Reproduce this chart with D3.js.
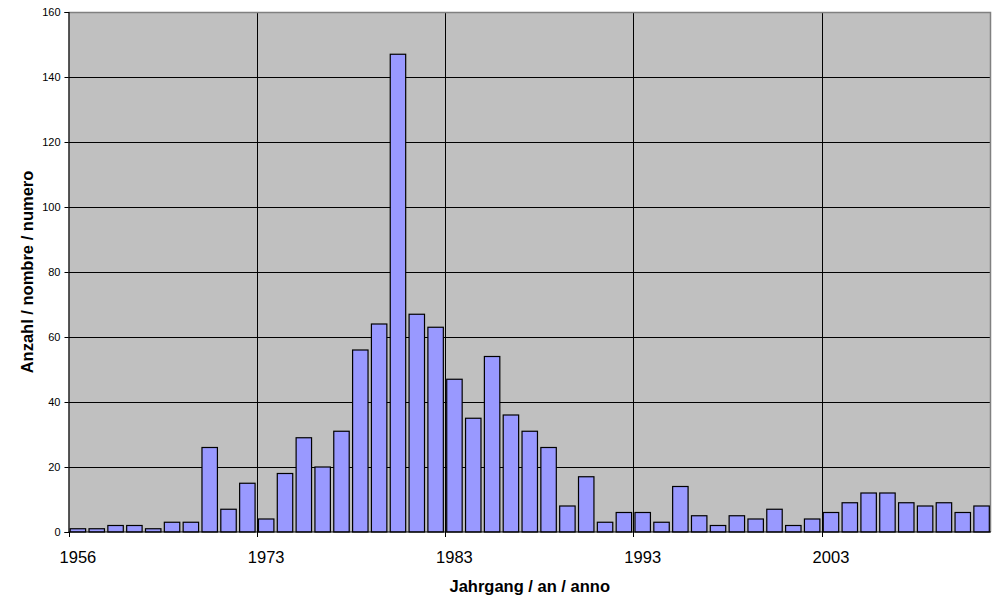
<!DOCTYPE html>
<html>
<head>
<meta charset="utf-8">
<script src="https://cdn.jsdelivr.net/npm/d3@7"></script>
<style>
  html, body { margin: 0; padding: 0; background: #ffffff; }
  svg { display: block; font-family: "Liberation Sans", Arial, sans-serif; }
</style>
</head>
<body>
<svg id="chart" width="1000" height="599"></svg>
<script>
// ---- data ----
const years = ["1956", "1964", "1965", "1966", "1967", "1968", "1969", "1970", "1971", "1972",
  "1973", "1974", "1975", "1976", "1977", "1978", "1979", "1980", "1981", "1982",
  "1983", "1984", "1985", "1986", "1987", "1988", "1989", "1990", "1991", "1992",
  "1993", "1994", "1995", "1996", "1997", "1998", "1999", "2000", "2001", "2002",
  "2003", "2004", "2005", "2006", "2007", "2008", "2009", "2010", "2011"];
const counts = [1, 1, 2, 2, 1, 3, 3, 26, 7, 15,
  4, 18, 29, 20, 31, 56, 64, 147, 67, 63,
  47, 35, 54, 36, 31, 26, 8, 17, 3, 6,
  6, 3, 14, 5, 2, 5, 4, 7, 2, 4,
  6, 9, 12, 12, 9, 8, 9, 6, 8];
const xTickLabels = ["1956", "1973", "1983", "1993", "2003"];
const yTicks = [0, 20, 40, 60, 80, 100, 120, 140, 160];
const xTitle = "Jahrgang / an / anno";
const yTitle = "Anzahl / nombre / numero";

// ---- layout ----
const pL = 68.5, pR = 991, pT = 12, pB = 532;
const pad = 0.18;

const svg = d3.select("#chart");

const x = d3.scaleBand().domain(years).range([pL, pR])
  .paddingInner(pad).paddingOuter(pad / 2);
const y = d3.scaleLinear().domain([0, 160]).range([pB, pT]);
const step = x.step();
const boundary = i => pL + i * step;

// plot background
svg.append("rect")
  .attr("x", pL).attr("y", pT)
  .attr("width", pR - pL).attr("height", pB - pT)
  .attr("fill", "#c0c0c0");

// horizontal gridlines
svg.append("g").selectAll("line")
  .data(yTicks.filter(v => v > 0 && v < 160))
  .join("line")
  .attr("x1", pL).attr("x2", pR)
  .attr("y1", d => Math.round(y(d)) + 0.5).attr("y2", d => Math.round(y(d)) + 0.5)
  .attr("stroke", "#000").attr("stroke-width", 1);

// vertical gridlines at category boundaries of labelled categories
const labelIdx = xTickLabels.map(l => years.indexOf(l));
svg.append("g").selectAll("line")
  .data(labelIdx.filter(i => i > 0))
  .join("line")
  .attr("x1", i => Math.round(boundary(i)) + 0.5).attr("x2", i => Math.round(boundary(i)) + 0.5)
  .attr("y1", pT).attr("y2", pB)
  .attr("stroke", "#000").attr("stroke-width", 1);

// top & right border
svg.append("path")
  .attr("d", `M${pL},${pT + 0.5}H${pR - 0.5}V${pB}`)
  .attr("fill", "none").attr("stroke", "#808080").attr("stroke-width", 1.5);

// bars
svg.append("g").selectAll("rect")
  .data(years.map((yr, i) => ({ yr, v: counts[i] })))
  .join("rect")
  .attr("x", d => x(d.yr))
  .attr("width", x.bandwidth())
  .attr("y", d => y(d.v))
  .attr("height", d => y(0) - y(d.v))
  .attr("fill", "#9999ff")
  .attr("stroke", "#000")
  .attr("stroke-width", 1.2);

// y axis
const yAxis = d3.axisLeft(y).tickValues(yTicks).tickSize(4).tickPadding(4);
const gy = svg.append("g").attr("transform", `translate(${pL},0)`).call(yAxis);
gy.select(".domain").attr("stroke", "#000").attr("stroke-width", 1.2);
gy.selectAll(".tick line").attr("stroke", "#000");
gy.selectAll(".tick text").attr("font-size", "11px").attr("fill", "#000")
  .attr("font-family", "Liberation Sans, Arial, sans-serif");

// x axis (labels centered in labelled categories)
const xAxis = d3.axisBottom(x).tickValues(xTickLabels).tickSize(0).tickPadding(0);
const gx = svg.append("g").attr("transform", `translate(0,${pB})`).call(xAxis);
gx.select(".domain").remove();
gx.selectAll(".tick text").attr("font-size", "16.5px").attr("fill", "#000")
  .attr("font-family", "Liberation Sans, Arial, sans-serif")
  .attr("dy", null).attr("y", 31);
// x axis line
svg.append("line")
  .attr("x1", pL).attr("x2", pR)
  .attr("y1", pB).attr("y2", pB)
  .attr("stroke", "#000").attr("stroke-width", 1.2);
// x tick marks at boundaries
svg.append("g").selectAll("line")
  .data(labelIdx)
  .join("line")
  .attr("x1", i => Math.round(boundary(i)) + 0.5).attr("x2", i => Math.round(boundary(i)) + 0.5)
  .attr("y1", pB).attr("y2", pB + 5)
  .attr("stroke", "#000").attr("stroke-width", 1);

// axis titles
svg.append("text")
  .attr("x", (pL + pR) / 2).attr("y", 592)
  .attr("text-anchor", "middle")
  .attr("font-size", "16.5px").attr("font-weight", "bold")
  .text(xTitle);

svg.append("text")
  .attr("transform", `translate(33,${(pT + pB) / 2}) rotate(-90)`)
  .attr("text-anchor", "middle")
  .attr("font-size", "16.5px").attr("font-weight", "bold")
  .text(yTitle);
</script>
</body>
</html>
